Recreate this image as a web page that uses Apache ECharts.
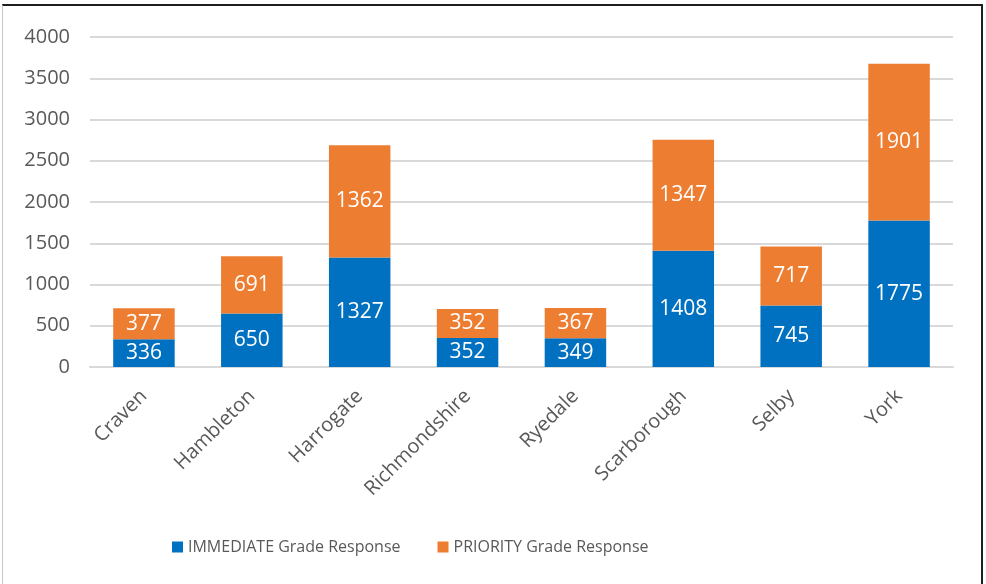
<!DOCTYPE html>
<html>
<head>
<meta charset="utf-8">
<script src="https://cdn.jsdelivr.net/npm/echarts@6/dist/echarts.min.js"></script>
<style>
html, body { margin: 0; padding: 0; background: #fff; }
#main { width: 986px; height: 584px; }
#frame { position: absolute; left: 2px; top: 4px; width: 978px; height: 590px;
  border-top: 2px solid #1e1e1e; border-right: 2px solid #1e1e1e; border-left: 1px solid #c8c8c8;
  pointer-events: none; }
</style>
</head>
<body>
<div id="main"></div>
<div id="frame"></div>
<script>
var categories = ['Craven', 'Hambleton', 'Harrogate', 'Richmondshire', 'Ryedale', 'Scarborough', 'Selby', 'York'];
var immediate = [336, 650, 1327, 352, 349, 1408, 745, 1775];
var priority = [377, 691, 1362, 352, 367, 1347, 717, 1901];

var myChart = echarts.init(document.getElementById('main'));

var labelStyle = {
    show: true,
    position: 'inside',
    color: '#fff',
    fontSize: 21,
    fontFamily: 'Open Sans'
};

option = {
    color: ['#0070c0', '#ed7d31'],
    backgroundColor: '#fff',
    animation: false,
    textStyle: { fontFamily: 'Open Sans' },
    legend: {
        bottom: 24,
        left: 167,
        itemWidth: 11,
        itemHeight: 11,
        itemGap: 37,
        icon: 'rect',
        textStyle: { fontSize: 16, color: '#595959' },
        data: ['IMMEDIATE Grade Response', 'PRIORITY Grade Response']
    },
    grid: {
        left: 90,
        right: 33,
        top: 37,
        bottom: 217
    },
    xAxis: {
        type: 'category',
        data: categories,
        axisLine: { lineStyle: { color: '#d9d9d9', width: 2 } },
        axisTick: { show: false },
        axisLabel: {
            rotate: 45,
            color: '#595959',
            fontSize: 20,
            margin: 26
        }
    },
    yAxis: {
        type: 'value',
        min: 0,
        max: 4000,
        interval: 500,
        axisLine: { show: false },
        axisTick: { show: false },
        splitLine: { lineStyle: { color: '#d9d9d9', width: 2 } },
        axisLabel: {
            color: '#595959',
            fontSize: 20,
            margin: 20,
            formatter: function (v) { return String(v); }
        }
    },
    series: [{
        name: 'IMMEDIATE Grade Response',
        type: 'bar',
        stack: 'total',
        barWidth: '57%',
        label: labelStyle,
        data: immediate
    }, {
        name: 'PRIORITY Grade Response',
        type: 'bar',
        stack: 'total',
        barWidth: '57%',
        label: labelStyle,
        data: priority
    }]
};
myChart.setOption(option);
</script>
</body>
</html>
